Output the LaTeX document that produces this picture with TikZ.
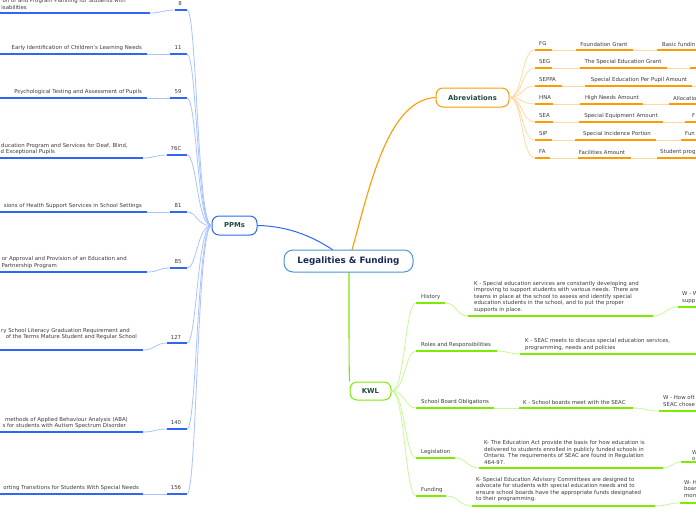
\documentclass[tikz,border=0pt]{standalone}
\usepackage{fontspec}
\setmainfont{DejaVu Sans}
\definecolor{bD}{HTML}{2F66F5}
\definecolor{bL}{HTML}{A9C3FF}
\definecolor{oD}{HTML}{FF9B00}
\definecolor{oL}{HTML}{FFD9A0}
\definecolor{gD}{HTML}{7CEB00}
\definecolor{gL}{HTML}{C8F79A}
\definecolor{tgray}{HTML}{3C3C3C}
\definecolor{ndtext}{HTML}{1F4A3F}
\definecolor{cBorder}{HTML}{4F94D4}
\definecolor{cText}{HTML}{1B2A5A}
\tikzset{
  tx/.style={inner sep=0pt, text=tgray, font=\fontsize{5.4}{6.5}\selectfont, align=left},
  ulB/.style={draw=bD, line width=1.5pt},
  lnB/.style={draw=bL, line width=0.8pt},
  ulO/.style={draw=oD, line width=1.5pt},
  lnO/.style={draw=oL, line width=0.8pt},
  ulG/.style={draw=gD, line width=1.5pt},
  lnG/.style={draw=gL, line width=0.8pt},
  topic/.style={draw, fill=white, line width=1pt, rounded corners=7pt, text=ndtext, inner sep=0pt,
     font=\bfseries\fontsize{6.8}{8}\selectfont},
  mainnode/.style={draw=cBorder, fill=white, line width=1pt, rounded corners=9pt, text=cText, inner sep=0pt,
     minimum width=129pt, minimum height=22pt, font=\bfseries\fontsize{8.8}{10}\selectfont}
}
\begin{document}
\begin{tikzpicture}[x=1pt,y=-1pt]
\useasboundingbox (0,0) rectangle (696,520);
\fill[white] (0,0) rectangle (696,520);
\clip (0,0) rectangle (696,520);

% main topic nodes
\node[topic, draw=bD, minimum width=45pt, minimum height=19pt] (ppms) at (234.5,225.5) {PPMs};
\node[topic, draw=oD, minimum width=73pt, minimum height=19pt] (abrev) at (472.5,97.5) {Abreviations};
\node[topic, draw=gD, minimum width=41pt, minimum height=18pt] (kwl) at (370.5,391) {KWL};

% central connectors
\coordinate (cP) at (333,250);
\coordinate (cA) at (352,250);
\coordinate (cK) at (349,272);
\draw[draw=bD, line width=1pt] (cP) .. controls (315,238) and (290,226) .. (ppms.east);
\draw[draw=oD, line width=1.1pt] (cA) .. controls (370,185) and (388,100) .. (abrev.west);
\draw[draw=gD, line width=1.1pt] (cK) .. controls (349,330) and (349,370) .. (kwl.north west);
\node[mainnode] (c) at (348.5,261) {Legalities \& Funding};

% PPM items
\foreach \i/\yu/\xe/\yn/\xn/\num/\xc in {1/13/150/10/175/8/180, 2/54/147/54/170/11/178, 3/98/147/98/170/59/178, 4/158/143/155/167/76C/176, 5/212/147/212/170/81/178, 6/272/147/268/170/85/178, 7/350/143/343/167/127/176, 8/432/143/429/167/140/176, 9/494/143/494/167/156/176}{
  \coordinate (pa\i) at (0,\yu);
  \coordinate (pb\i) at (\xe,\yu);
  \coordinate (pc\i) at (\xn,\yn);
  \coordinate (pd\i) at (187,\yn);
  \draw[lnB] (pb\i) .. controls (\xe+12,\yu) and (\xn-12,\yn) .. (pc\i);
  \draw[ulB] (pa\i) -- (pb\i);
  \draw[ulB] (pc\i) -- (pd\i);
  \node[tx] (pn\i) at (\xc,\yn-6) {\num};
  \draw[lnB] (ppms.west) .. controls (197,226) and (197,\yn) .. (pd\i);
}
\node[tx,anchor=east] (p1t1) at (126,1) {on of and Program Planning for Students with};
\node[tx,anchor=east] (p1t2) at (27,7) {isabilities};
\node[tx,anchor=east] (p2t1) at (142,48) {Early Identification of Children's Learning Needs};
\node[tx,anchor=east] (p3t1) at (142,92) {Psychological Testing and Assessment of Pupils};
\node[tx,anchor=east] (p4t1) at (128,146) {ducation Program and Services for Deaf, Blind,};
\node[tx,anchor=east] (p4t2) at (55,152) {d Exceptional Pupils};
\node[tx,anchor=east] (p5t1) at (142,206) {sions of Health Support Services in School Settings};
\node[tx,anchor=east] (p6t1) at (127,259) {or Approval and Provision of an Education and};
\node[tx,anchor=east] (p6t2) at (57,266) {Partnership Program};
\node[tx,anchor=east] (p7t1) at (130,331) {ry School Literacy Graduation Requirement and};
\node[tx,anchor=east] (p7t2) at (137,337) {of the Terms Mature Student and Regular School};
\node[tx,anchor=east] (p8t1) at (128,420) {methods of Applied Behaviour Analysis (ABA)};
\node[tx,anchor=east] (p8t2) at (126,426) {s for students with Autism Spectrum Disorder};
\node[tx,anchor=east] (p9t1) at (139,488) {orting Transitions for Students With Special Needs};

% Abbreviations rows
\foreach \i/\yu/\ab/\xb/\xc/\xd/\nm/\nc/\xe/\nx/\nxt in {1/50/FG/552/576/633/Foundation Grant/604/657/Basic fundin/662, 2/68/SEG/552/580/667/The Special Education Grant/623/690//700, 3/86/SEPPA/562/585/692/Special Education Per Pupil Amount/639/720//730, 4/104/HNA/553/580/643/High Needs Amount/612/669/Allocatio/673, 5/122/SEA/553/579/663/Special Equipment Amount/621/685/F/692, 6/140/SIP/552/575/656/Special Incidence Portion/617/681/Fun/685, 7/158/FA/550/578/631/Facilities Amount/602/657/Student prog/660}{
  \coordinate (aa\i) at (535,\yu);
  \coordinate (ab\i) at (\xb,\yu);
  \coordinate (ac\i) at (\xc,\yu);
  \coordinate (ad\i) at (\xd,\yu);
  \coordinate (ae\i) at (\xe,\yu);
  \coordinate (af\i) at (740,\yu);
  \draw[lnO] (ab\i) -- (ac\i);
  \draw[lnO] (ad\i) -- (ae\i);
  \draw[ulO] (aa\i) -- (ab\i);
  \draw[ulO] (ac\i) -- (ad\i);
  \draw[ulO] (ae\i) -- (af\i);
  \node[tx,anchor=west] (at\i) at (539,\yu-6) {\ab};
  \node[tx] (an\i) at (\nc,\yu-6) {\nm};
  \node[tx,anchor=west] (ax\i) at (\nxt,\yu-6) {\nx};
  \draw[lnO] (abrev.east) .. controls (523,97.5) and (521,\yu) .. (aa\i);
}

% KWL rows
% History
\node[tx,anchor=west] (h0) at (421,297) {History};
\coordinate (h0a) at (416,303); \coordinate (h0b) at (445,303);
\node[tx,anchor=west] (h1) at (474,297) {K - Special education services are constantly developing and\\improving to support students with various needs. There are\\teams in place at the school to assess and identify special\\education students in the school, and to put the proper\\supports in place.};
\coordinate (h1a) at (468,316); \coordinate (h1b) at (653,316);
\node[tx,anchor=west] (h2) at (682,297.5) {W - W\\supp};
\coordinate (h2a) at (678,307); \coordinate (h2b) at (740,307);
\draw[lnG] (h0b) .. controls (457,303) and (456,316) .. (h1a);
\draw[lnG] (h1b) .. controls (665,316) and (666,307) .. (h2a);
\draw[ulG] (h0a) -- (h0b);
\draw[ulG] (h1a) -- (h1b);
\draw[ulG] (h2a) -- (h2b);
% Roles
\node[tx,anchor=west] (r0) at (421,345) {Roles and Responsibilities};
\coordinate (r0a) at (416,351); \coordinate (r0b) at (497,351);
\node[tx,anchor=west] (r1) at (525,344.5) {K - SEAC meets to discuss special education services,\\programming, needs and policies};
\coordinate (r1a) at (520,354); \coordinate (r1b) at (740,354);
\draw[lnG] (r0b) .. controls (507,351) and (510,354) .. (r1a);
\draw[ulG] (r0a) -- (r0b);
\draw[ulG] (r1a) -- (r1b);
% School Board
\node[tx,anchor=west] (s0) at (421,402) {School Board Obligations};
\coordinate (s0a) at (416,408); \coordinate (s0b) at (494,408);
\node[tx,anchor=west] (s1) at (523,402) {K - School boards meet with the SEAC};
\coordinate (s1a) at (519,408); \coordinate (s1b) at (633,408);
\node[tx,anchor=west] (s2) at (663,401) {W - How oft\\SEAC chose};
\coordinate (s2a) at (659,411); \coordinate (s2b) at (740,411);
\draw[lnG] (s0b) -- (s1a);
\draw[lnG] (s1b) .. controls (645,408) and (647,411) .. (s2a);
\draw[ulG] (s0a) -- (s0b);
\draw[ulG] (s1a) -- (s1b);
\draw[ulG] (s2a) -- (s2b);
% Legislation
\node[tx,anchor=west] (l0) at (421,452) {Legislation};
\coordinate (l0a) at (416,458); \coordinate (l0b) at (455,458);
\node[tx,anchor=west] (l1) at (484,452.5) {K- The Education Act provide the basis for how education is\\delivered to students enrolled in publicly funded schools in\\Ontario. The requirements of SEAC are found in Regulation\\464-97.};
\coordinate (l1a) at (479,468); \coordinate (l1b) at (663,468);
\node[tx,anchor=west] (l2) at (692,455.5) {W\\o};
\coordinate (l2a) at (681,462); \coordinate (l2b) at (740,462);
\draw[lnG] (l0b) .. controls (467,458) and (467,468) .. (l1a);
\draw[lnG] (l1b) .. controls (672,468) and (672,462) .. (l2a);
\draw[ulG] (l0a) -- (l0b);
\draw[ulG] (l1a) -- (l1b);
\draw[ulG] (l2a) -- (l2b);
% Funding
\node[tx,anchor=west] (f0) at (421,490) {Funding};
\coordinate (f0a) at (416,496); \coordinate (f0b) at (446,496);
\node[tx,anchor=west] (f1) at (476,489.5) {K- Special Education Advisory Committees are designed to\\advocate for students with special education needs and to\\ensure school boards have the appropriate funds designated\\to their programming.};
\coordinate (f1a) at (472,506); \coordinate (f1b) at (655,506);
\node[tx,anchor=west] (f2) at (684,489) {W- H\\boar\\mon};
\coordinate (f2a) at (680,503); \coordinate (f2b) at (740,503);
\draw[lnG] (f0b) .. controls (459,496) and (459,506) .. (f1a);
\draw[lnG] (f1b) .. controls (667,506) and (668,503) .. (f2a);
\draw[ulG] (f0a) -- (f0b);
\draw[ulG] (f1a) -- (f1b);
\draw[ulG] (f2a) -- (f2b);

% KWL connectors
\foreach \n in {h0a,r0a,s0a,l0a,f0a}{
  \draw[lnG] (kwl.east) .. controls (405,391) and (405,0|-\n) .. (\n);
}
\end{tikzpicture}
\end{document}
